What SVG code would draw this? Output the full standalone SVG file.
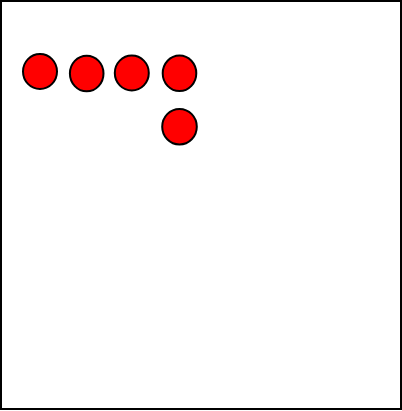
<svg xmlns="http://www.w3.org/2000/svg" width="402" height="411" viewBox="0 0 402 411">
<style>
.dot{fill:#ff0000;stroke:#000000;stroke-width:2}
</style>
<rect x="0" y="0" width="402" height="411" fill="#ffffff"/>
<rect x="1" y="1" width="400" height="408" fill="none" stroke="#000000" stroke-width="2"/>
<g id="n1"><ellipse class="dot" cx="40" cy="71.5" rx="17" ry="17.5"/></g>
<g id="n2"><ellipse class="dot" cx="86.7" cy="73.5" rx="16.8" ry="17.8"/></g>
<g id="n3"><ellipse class="dot" cx="131.8" cy="73" rx="17" ry="17.5"/></g>
<g id="n4"><ellipse class="dot" cx="179.5" cy="73.3" rx="16.8" ry="17.8"/></g>
<g id="n5"><ellipse class="dot" cx="179.5" cy="126.7" rx="17.3" ry="17.8"/></g>
<g id="connectors"></g>
</svg>
